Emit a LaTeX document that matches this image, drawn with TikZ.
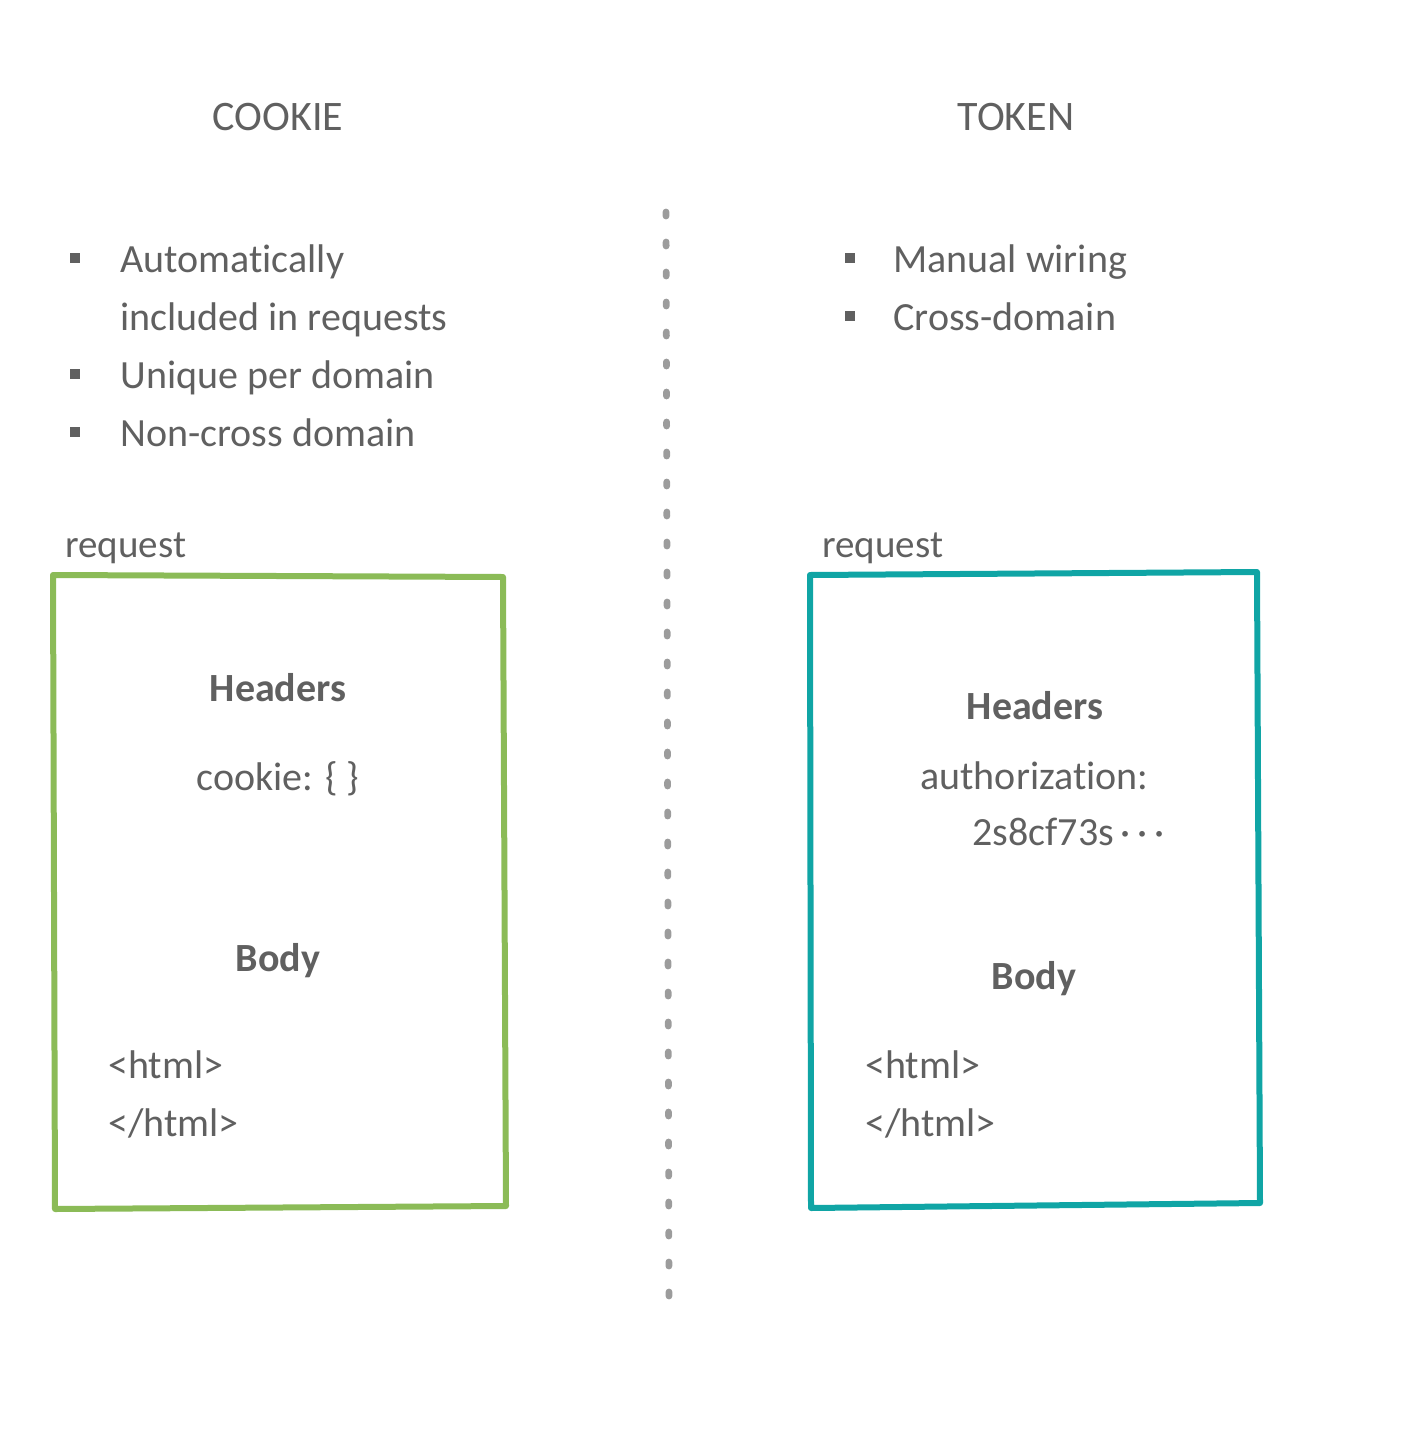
\documentclass[tikz,border=0pt]{standalone}
\usepackage{fontspec}
\setmainfont{Carlito}[Ligatures=NoCommon]
\definecolor{Ink}{HTML}{606060}
\definecolor{Quiet}{HTML}{9C9C9C}
\definecolor{Leaf}{HTML}{8BBB57}
\definecolor{Teal}{HTML}{10A5A5}
\tikzset{
  ttl/.style={font=\fontsize{21}{25}\selectfont,text=Ink,anchor=base},
  it/.style={font=\fontsize{20}{24}\selectfont,text=Ink,anchor=base west,inner sep=0pt},
  pt/.style={rectangle,fill=Ink,minimum size=4.8pt,inner sep=0pt},
  hd/.style={font=\fontsize{20}{24}\selectfont\bfseries,text=Ink,anchor=base},
  tx/.style={font=\fontsize{20}{24}\selectfont,text=Ink,anchor=base west,inner sep=0pt},
  rq/.style={font=\fontsize{19.5}{24}\selectfont,text=Ink,anchor=base west,inner sep=0pt},
  frame/.style={line width=3pt,line cap=round,line join=round},
  sep/.style={draw=Quiet,line width=3.4pt,line cap=round,dash pattern=on 2pt off 13pt},
}
\begin{document}
\begin{tikzpicture}[x=0.5pt,y=-0.5pt]
\path[use as bounding box] (0,0) rectangle (1422,1440);
% -titles-
\node[ttl] (ck) at (278,130) {COOKIE};
\node[ttl] (tk) at (1016,130) {TOKEN};
% -divider-
\coordinate (s0) at (666,212);
\coordinate (s1) at (669,1296);
\draw[sep] (s0) -- (s1);
% -cookie side-
\node[pt] (p1) at (75,258) {}; \node[it] (l1) at (120,272) {Automatically};
\node[it] (l1b) at (120,330) {included in requests};
\node[pt] (p2) at (75,374) {}; \node[it] (l2) at (120,388) {Unique per domain};
\node[pt] (p3) at (75,432) {}; \node[it] (l3) at (120,446) {Non-cross domain};
\node[rq] (rqA) at (65,557) {request};
\draw[frame,draw=Leaf] (53,575) -- (503,577) -- (506,1206) -- (55,1209) -- cycle;
\node[hd] (hA) at (278,701) {Headers};
\node[tx,anchor=base] (cA) at (278,790) {cookie: \{~\}};
\node[hd] (bA) at (278,971) {Body};
\node[tx] (oA) at (108,1078) {<html>};
\node[tx] (eA) at (108,1136) {</html>};
% -token side-
\node[pt] (q1) at (850,258) {}; \node[it] (m1) at (893,272) {Manual wiring};
\node[pt] (q2) at (850,316) {}; \node[it] (m2) at (893,330) {Cross-domain};
\node[rq] (rqB) at (822,557) {request};
\draw[frame,draw=Teal] (810,575) -- (1257,572) -- (1260,1203) -- (811,1208) -- cycle;
\node[hd] (hB) at (1035,719) {Headers};
\node[tx] (aB) at (920,789) {authorization:};
\node[tx] (kB) at (972,845) {2s8cf73s\,·\,·\,·};
\node[hd] (bB) at (1034,989) {Body};
\node[tx] (oB) at (865,1078) {<html>};
\node[tx] (eB) at (865,1136) {</html>};
\end{tikzpicture}
\end{document}
